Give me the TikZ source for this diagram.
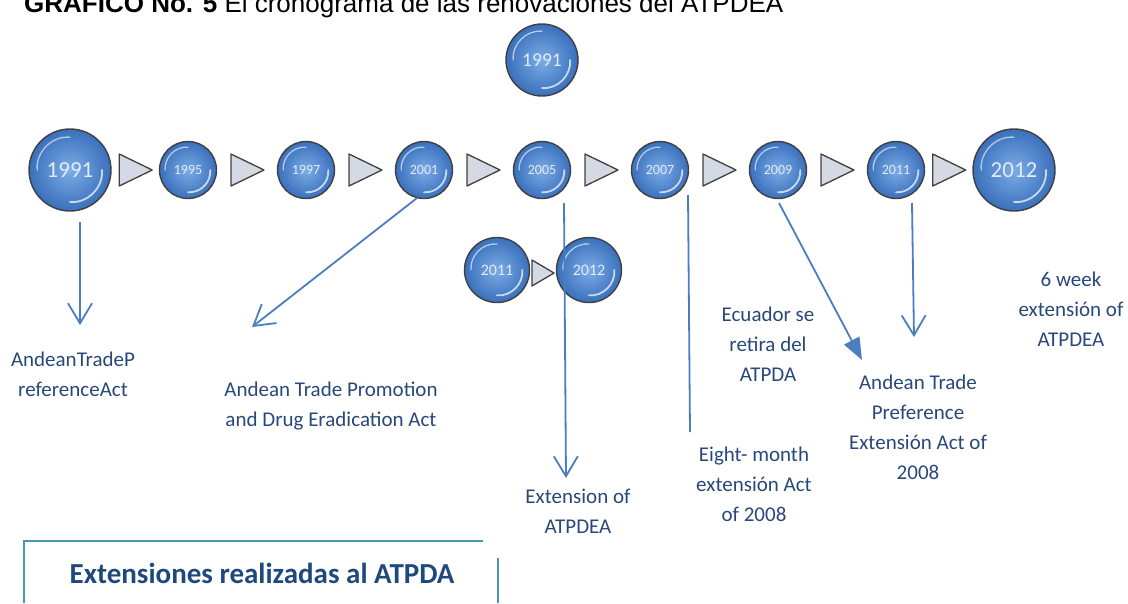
\documentclass[tikz,border=0pt]{standalone}
\usepackage{fontspec}
\setmainfont{Carlito}
\newfontfamily\titlefont{Liberation Sans}
\usetikzlibrary{positioning, calc, arrows.meta}
\definecolor{ballhi}{RGB}{124,172,230}
\definecolor{balllo}{RGB}{58,112,188}
\definecolor{yeartext}{RGB}{226,236,248}
\definecolor{arrowblue}{RGB}{74,126,193}
\definecolor{labelblue}{RGB}{40,72,122}
\definecolor{headblue}{RGB}{31,73,125}
\definecolor{framecol}{RGB}{75,150,180}
\definecolor{trifill}{RGB}{212,217,228}
\tikzset{
x=1pt, y=-1pt, % y runs downwards
node distance=118pt, % spacing of the years on the timeline
bubble/.style={circle, inner sep=0pt, minimum size=57pt, draw=black!75, line width=1.4pt,
  inner color=ballhi, outer color=balllo, text=yeartext, font=\fontsize{14}{14}\selectfont,
  path picture={
    \draw[white, opacity=.6, line width=1.3pt, line cap=round]
      ($(path picture bounding box.center)!.8!(path picture bounding box.west)$) to[bend left=50]
      ($(path picture bounding box.center)!.8!(path picture bounding box.north)$);
    \draw[white, opacity=.7, line width=1.8pt, line cap=round]
      ($(path picture bounding box.center)!.78!(path picture bounding box.east)$) to[bend left=50]
      ($(path picture bounding box.center)!.78!(path picture bounding box.south)$);
  }}, % glossy year ball
bigbubble/.style={bubble, minimum size=82pt, font=\fontsize{23}{23}\selectfont}, % first and last year
tri/.style={draw=black!75, line width=1.3pt, fill=trifill, line join=round}, % step marker
link/.style={arrowblue, line width=1.8pt}, % blue connector
vhead/.style={link, -{Straight Barb[length=20pt, width=24pt]}}, % open head
fhead/.style={link, -{Triangle[length=22pt, width=17pt]}}, % filled head
actnote/.style={text=labelblue, font=\fontsize{21}{30}\selectfont, align=center, inner sep=0pt, anchor=north}, % act names
frame/.style={framecol, line width=1.3pt},
}

\begin{document}
\begin{tikzpicture}
    \useasboundingbox (0,0) rectangle (1128,603);
    \clip (0,0) rectangle (1128,603);

    \node[anchor=base west, inner sep=0pt, font=\titlefont\fontsize{26}{26}\selectfont] (title) at (24,12)
        {\textbf{GRÁFICO No. 5} El cronograma de las renovaciones del ATPDEA};

    % timeline
    \node[bigbubble] (y1991) at (70,170) {1991};
    \node[bubble, right of=y1991] (y1995) {1995};
    \node[bubble, right of=y1995] (y1997) {1997};
    \node[bubble, right of=y1997] (y2001) {2001};
    \node[bubble, right of=y2001] (y2005) {2005};
    \node[bubble, right of=y2005] (y2007) {2007};
    \node[bubble, right of=y2007] (y2009) {2009};
    \node[bubble, right of=y2009] (y2011) {2011};
    \node[bigbubble, right of=y2011] (y2012) {2012};

    \foreach \a/\b in {y1991/y1995, y1995/y1997, y1997/y2001, y2001/y2005,
                       y2005/y2007, y2007/y2009, y2009/y2011, y2011/y2012}
        \draw[tri] ($(\a.east)!.5!(\b.west)$) ++(-16,-16) -- ++(33,16) -- ++(-33,16) -- cycle;

    \node[bubble, minimum size=72pt, font=\fontsize{19.5}{19.5}\selectfont] (top1991) at (542,60) {1991};

    \node[bubble, minimum size=65pt, font=\fontsize{16}{16}\selectfont] (b2011) at (497,270) {2011};
    \node[bubble, minimum size=65pt, font=\fontsize{16}{16}\selectfont, right of=b2011, node distance=92pt] (b2012) {2012};
    \draw[tri] ($(b2011.east)!.5!(b2012.west)+(0,3)$) ++(-11,-13) -- ++(22,13) -- ++(-22,13) -- cycle;

    % acts
    \node[actnote] (n1991) at (73,352) {AndeanTradeP\\referenceAct};
    \node[actnote] (n2001) at (331,382) {Andean Trade Promotion\\and Drug Eradication Act};
    \node[actnote] (n2005) at (578,489) {Extension of\\ATPDEA};
    \node[actnote] (n2007) at (754,447) {Eight- month\\extensión Act\\of 2008};
    \node[actnote] (nretira) at (768,307) {Ecuador se\\retira del\\ATPDA};
    \node[actnote] (n2009) at (918,375) {Andean Trade\\Preference\\Extensión Act of\\2008};
    \node[actnote] (n2012) at (1071,272) {6 week\\extensión of\\ATPDEA};

    \coordinate (e1991) at (80,325);
    \coordinate (e2001) at (252,327);
    \coordinate (e2005) at (566,478);
    \coordinate (e2007) at (690,432);
    \coordinate (e2009) at (862,360);
    \coordinate (e2011) at (914,337);

    \draw
        ($(y1991)+(10,52)$) edge[vhead] (e1991)
        ($(y2001)+(-7,28)$) edge[vhead] (e2001)
        ($(y2005)+(22,33)$) edge[vhead] (e2005)
        ($(y2007)+(28,25)$) edge[link] (e2007)
        ($(y2009)+(1,33)$) edge[fhead] (e2009)
        ($(y2011)+(16,33)$) edge[vhead] (e2011)
        ;

    % caption box
    \node[anchor=base, inner sep=0pt, text=headblue, font=\bfseries\fontsize{29}{29}\selectfont] (heading) at (262,583)
        {Extensiones realizadas al ATPDA};
    \draw[frame] (483,541) -- (24,541) -- (24,603);
    \draw[frame] (498,558) -- (498,603);
\end{tikzpicture}
\end{document}
